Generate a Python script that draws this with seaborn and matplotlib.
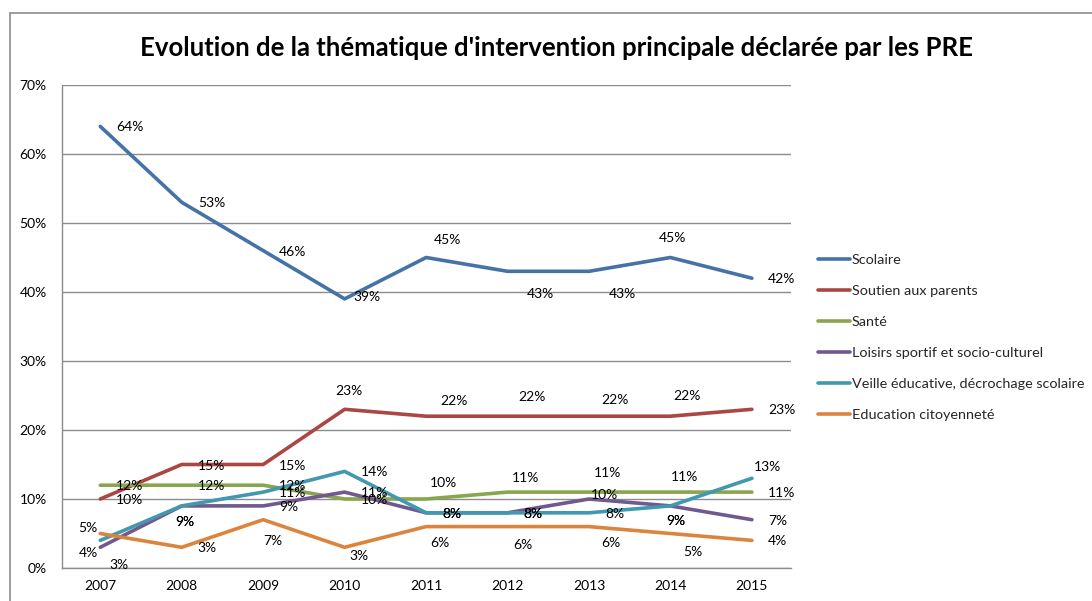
import matplotlib
matplotlib.use("Agg")
import matplotlib.pyplot as plt
import matplotlib.patches as mpatches
import seaborn as sns
import pandas as pd

# ---- data ----
years = [2007, 2008, 2009, 2010, 2011, 2012, 2013, 2014, 2015]
series_names = ["Scolaire", "Soutien aux parents", "Santé",
                "Loisirs sportif et socio-culturel",
                "Veille éducative, décrochage scolaire",
                "Education citoyenneté"]
scolaire = [64, 53, 46, 39, 45, 43, 43, 45, 42]
soutien = [10, 15, 15, 23, 22, 22, 22, 22, 23]
sante = [12, 12, 12, 10, 10, 11, 11, 11, 11]
loisirs = [3, 9, 9, 11, 8, 8, 10, 9, 7]
veille = [4, 9, 11, 14, 8, 8, 8, 9, 13]
education = [5, 3, 7, 3, 6, 6, 6, 5, 4]
yticks = [0, 10, 20, 30, 40, 50, 60, 70]
title = "Evolution de la thématique d'intervention principale déclarée par les PRE"

colors = ["#4572A7", "#AA4643", "#89A54E", "#71588F", "#4198AF", "#DB843D"]

# label offsets (pixels, +x right, +y down), centred labels; others default to the right
label_offsets = {
    (0, 3): (22, -2), (0, 4): (21, -18), (0, 5): (33, 23), (0, 6): (33, 23), (0, 7): (2, -20),
    (1, 3): (4, -18), (1, 4): (28, -15), (1, 5): (24, -19), (1, 6): (26, -16), (1, 7): (17, -20),
    (2, 4): (17, -16), (2, 5): (18, -14), (2, 6): (19, -19), (2, 7): (14, -15),
    (3, 0): (19, 18), (3, 1): (3, 16), (3, 6): (15, -4), (3, 7): (5, 15),
    (4, 0): (-12, 13), (4, 1): (3, 16), (4, 7): (5, 15), (4, 8): (16, -11),
    (5, 0): (-12, -5), (5, 2): (10, 21), (5, 3): (14, 9), (5, 4): (14, 16),
    (5, 5): (15, 18), (5, 6): (22, 16), (5, 7): (22, 19),
}

all_values = [scolaire, soutien, sante, loisirs, veille, education]
rows = []
for name, vals in zip(series_names, all_values):
    for y, v in zip(years, vals):
        rows.append({"Année": y, "Valeur": v, "Série": name})
df = pd.DataFrame(rows)

sns.set_theme(style="white")
plt.rcParams["font.family"] = ["Lato", "DejaVu Sans"]

fig = plt.figure(figsize=(10.92, 6.01), dpi=100)
ax = fig.add_axes([62 / 1092, 1 - 568 / 601, (791 - 62) / 1092, (568 - 85) / 601])

sns.lineplot(data=df, x="Année", y="Valeur", hue="Série", hue_order=series_names,
             palette=colors, linewidth=2.6, ax=ax, legend=True)

ax.set_xlim(years[0] - 0.47, years[-1] + 0.48)
ax.set_ylim(0, 70)
ax.set_yticks(yticks)
ax.set_yticklabels([f"{t}%" for t in yticks])
ax.set_xticks(years)
ax.set_xticklabels([str(y) for y in years])
ax.set_xlabel("")
ax.set_ylabel("")
ax.grid(axis="y", color="#8c8c8c", linewidth=1.0)
ax.grid(axis="x", visible=False)
ax.set_axisbelow(True)
for s in ["top", "right"]:
    ax.spines[s].set_visible(False)
for s in ["left", "bottom"]:
    ax.spines[s].set_color("#8c8c8c")
    ax.spines[s].set_linewidth(1.0)
ax.tick_params(axis="both", length=0, labelsize=10, colors="black")
ax.tick_params(axis="x", pad=9)
ax.tick_params(axis="y", pad=11)

# data labels
for si, vals in enumerate(all_values):
    for i, (y, v) in enumerate(zip(years, vals)):
        if (si, i) in label_offsets:
            dx, dy = label_offsets[(si, i)]
            ax.annotate(f"{v}%", (y, v), xytext=(dx, -dy), textcoords="offset pixels",
                        ha="center", va="center", fontsize=10, color="black",
                        annotation_clip=False)
        else:
            ax.annotate(f"{v}%", (y, v), xytext=(16, -1), textcoords="offset pixels",
                        ha="left", va="center", fontsize=10, color="black",
                        annotation_clip=False)

# legend
handles, labels = ax.get_legend_handles_labels()
ax.legend(handles, labels, loc="upper left", bbox_to_anchor=(818 / 1092, 1 - 254 / 601),
          bbox_transform=fig.transFigure, frameon=False, fontsize=10.4,
          handlelength=2.2, handletextpad=0.12, labelspacing=1.3, borderaxespad=0,
          borderpad=0)

# title
fig.text(556 / 1092, 1 - 48 / 601, title, ha="center", va="center",
         fontsize=18.5, fontweight="bold", color="black")

# outer chart border
border = mpatches.Rectangle((10 / 1092, -0.05), 1.2, 1 - 13 / 601 + 0.05,
                            transform=fig.transFigure, fill=False,
                            edgecolor="#8c8c8c", linewidth=1.2, clip_on=False)
fig.patches.append(border)

fig.savefig("out.png", dpi=100)
